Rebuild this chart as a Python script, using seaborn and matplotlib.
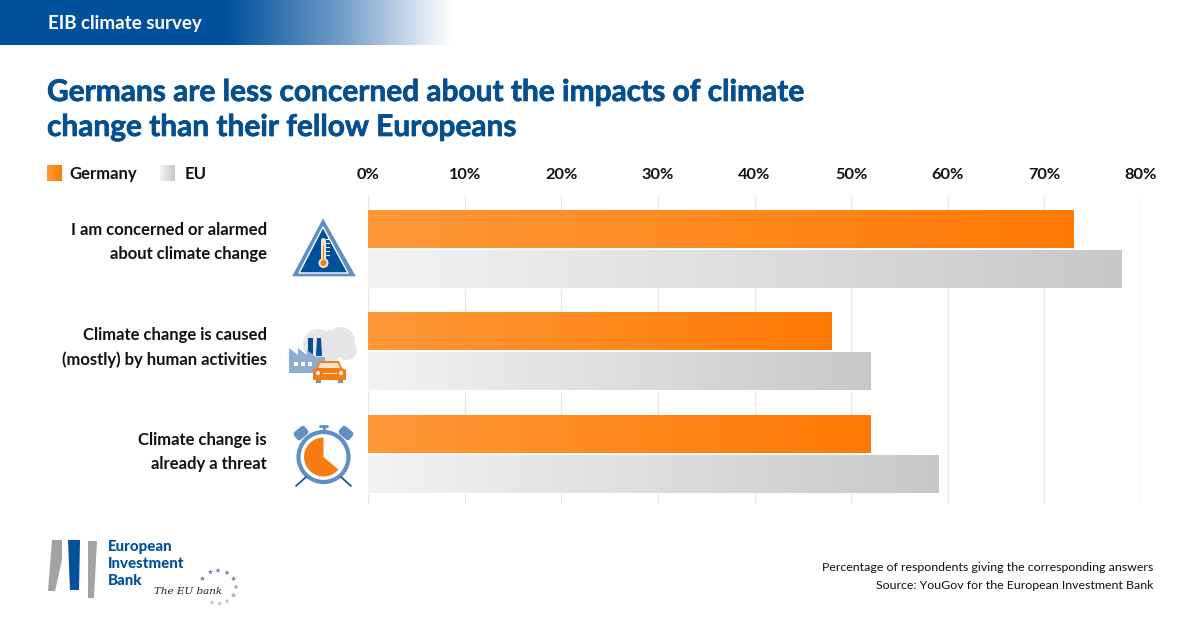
import numpy as np
import pandas as pd
import matplotlib
matplotlib.use('Agg')
import matplotlib.pyplot as plt
import matplotlib.patheffects as pe
import seaborn as sns
from matplotlib.colors import LinearSegmentedColormap
from matplotlib.patches import Circle, Polygon, Rectangle, Wedge, FancyBboxPatch

# data
statements = ['I am concerned or alarmed\nabout climate change',
              'Climate change is caused\n(mostly) by human activities',
              'Climate change is\nalready a threat']
germany = [73, 48, 52]
eu = [78, 52, 59]
ticks = [0, 10, 20, 30, 40, 50, 60, 70, 80]
label_shift_px = [7, 4, 2]

BLUE = '#00509b'
TITLE_BLUE = '#034f90'
MID_BLUE = '#5f8fc4'
ORANGE = '#f57c14'
FONT = 'Lato'

df = pd.DataFrame({'statement': statements * 2,
                   'value': germany + eu,
                   'group': ['Germany'] * 3 + ['EU'] * 3})

sns.set_theme(style='white')
plt.rcParams['font.family'] = [FONT, 'DejaVu Sans']

W, H = 1200, 629
fig = plt.figure(figsize=(W / 100, H / 100), dpi=100, facecolor='white')

# main chart, axes placed in pixels
ax = fig.add_axes([368 / W, 1 - 503.5 / H, (1141 - 368) / W, (503.5 - 195.5) / H])
sns.barplot(data=df, x='value', y='statement', hue='group', orient='h',
            hue_order=['Germany', 'EU'], width=0.78, gap=0.07, legend=False,
            palette=['#ff8a2a', '#dddddd'], ax=ax, zorder=3)

orange_grad = LinearSegmentedColormap.from_list('o', ['#ff9839', '#ff7a05'])
grey_grad = LinearSegmentedColormap.from_list('g', ['#f3f3f3', '#c8c8c8'])
ramp = np.linspace(0, 1, 256).reshape(1, -1)

# gradient fill on the bars seaborn drew
for container, cmap in zip(ax.containers, [orange_grad, grey_grad]):
    for bar in container:
        x0, y0 = bar.get_x(), bar.get_y()
        w, h = bar.get_width(), bar.get_height()
        ax.imshow(ramp, cmap=cmap, aspect='auto', zorder=4,
                  extent=[x0, x0 + w, y0 + h, y0])

ax.set_xlim(0, 80)
ax.set_ylim(2.483, -0.522)
ax.set_xticks(ticks)
ax.set_xticklabels([f'{t}%' for t in ticks])
ax.xaxis.tick_top()
ax.grid(axis='x', color='#e8e8e8', lw=1)
ax.set_axisbelow(True)
ax.set_xlabel('')
ax.set_ylabel('')
ax.tick_params(axis='x', length=0, pad=10, labelsize=11.8, labelcolor='#111111')
for t in ax.get_xticklabels():
    t.set_fontweight('bold')

# statements next to the icons, a little above each group's centre
ax.set_yticks(range(len(statements)))
ax.set_yticklabels([])
ax.tick_params(axis='y', length=0)
for i, (text, shift) in enumerate(zip(statements, label_shift_px)):
    ax.annotate(text, xy=(0, i), xytext=(-101 * 0.72, shift * 0.72), textcoords='offset points',
                ha='right', va='center', ma='right', fontsize=12, fontweight='bold',
                color='#111111', linespacing=1.55, annotation_clip=False)
sns.despine(ax=ax, left=True, bottom=True, top=True, right=True)

# overlay in pixel coordinates for header, icons, logo
ov = fig.add_axes([0, 0, 1, 1], zorder=5)
ov.patch.set_alpha(0)
ov.axis('off')


def swatch(x0, x1, y0, y1, cmap):
    ov.imshow(ramp, cmap=cmap, aspect='auto', extent=[x0, x1, y1, y0], zorder=1)


header = LinearSegmentedColormap.from_list(
    'h', [(0, BLUE), (0.5, BLUE), (0.75, '#6f9ac8'), (1, '#ffffff')])
swatch(0, 452, 0, 45, header)
swatch(47, 62, 165, 181, orange_grad)
swatch(160, 175, 165, 181, grey_grad)

# thin stroke to get closer to the heavier title face
heavier = [pe.withStroke(linewidth=0.5, foreground=TITLE_BLUE)]

ov.text(48, 24, 'EIB climate survey', color='white', fontsize=13.5, fontweight='bold',
        va='center')
ov.text(47, 92, 'Germans are less concerned about the impacts of climate',
        color=TITLE_BLUE, fontsize=21.5, fontweight='bold', va='center', path_effects=heavier)
ov.text(47, 127, 'change than their fellow Europeans',
        color=TITLE_BLUE, fontsize=21.5, fontweight='bold', va='center', path_effects=heavier)
ov.text(69, 174, 'Germany', color='#111111', fontsize=12, fontweight='bold', va='center')
ov.text(185, 174, 'EU', color='#111111', fontsize=12, fontweight='bold', va='center')
ov.text(1153, 567.5, 'Percentage of respondents giving the corresponding answers',
        color='#111111', fontsize=8.9, ha='right', va='center')
ov.text(1153, 585.5, 'Source: YouGov for the European Investment Bank',
        color='#111111', fontsize=8.9, ha='right', va='center')

# thermometer icon
ov.add_patch(Polygon([(323, 217), (357, 277), (291, 277)], fc=MID_BLUE, joinstyle='round'))
ov.add_patch(Polygon([(323, 227), (348, 273), (299, 273)], fc=BLUE))
ov.add_patch(FancyBboxPatch((321, 238), 5, 24, boxstyle='round,pad=0,rounding_size=2.5',
                            fc='#f4e3d4', ec='none'))
ov.add_patch(Circle((323.5, 263), 5, fc='#f4e3d4', ec='none'))
ov.add_patch(Circle((323.5, 263), 3, fc=ORANGE, ec='none'))
ov.add_patch(Rectangle((322.8, 246), 1.5, 15, fc=ORANGE, ec='none'))
for ty in [239, 243, 247, 251, 255]:
    ov.plot([326, 329], [ty, ty], color='white', lw=0.8)

# factory and car icon
for c, r in [((318, 344), 15), ((330, 340), 10), ((341, 341), 14), ((347, 350), 10), ((330, 353), 10)]:
    ov.add_patch(Circle(c, r, fc='#e6e6e6', ec='none'))
ov.add_patch(Rectangle((308, 338), 5, 16, fc=BLUE, ec='none'))
ov.add_patch(Polygon([(317, 338), (321, 338), (322, 356), (316, 356)], fc=BLUE, ec='none'))
ov.add_patch(Polygon([(289, 348), (298, 355), (298, 348), (307, 355), (307, 350), (316, 357),
                      (325, 357), (325, 373), (289, 373)], fc='#8eadd3', ec='none'))
for wx in [294, 301, 308]:
    ov.add_patch(Rectangle((wx, 362), 4, 4, fc='white', ec='none'))
ov.add_patch(Rectangle((316, 377), 5, 6, fc='#8b8b8b', ec='none'))
ov.add_patch(Rectangle((338, 377), 5, 6, fc='#8b8b8b', ec='none'))
ov.add_patch(Polygon([(319, 361), (339, 361), (342, 368), (346, 370), (346, 380), (313, 380),
                      (313, 370), (316, 368)], fc=ORANGE, ec='none'))
ov.add_patch(Polygon([(320, 363), (338, 363), (340, 368), (318, 368)], fc='#fbe3c8', ec='none'))
ov.add_patch(Circle((318, 373), 2, fc='white', ec='none'))
ov.add_patch(Circle((341, 373), 2, fc='white', ec='none'))
ov.plot([323, 336], [373, 373], color='#fbe3c8', lw=0.8)

# clock icon
ov.add_patch(Circle((323.5, 457), 25, fc='none', ec=MID_BLUE, lw=3))
ov.add_patch(Wedge((323.5, 457), 19.5, 40, 270, fc=ORANGE, ec='none'))
ov.plot([323.5, 323.5], [427, 432], color=MID_BLUE, lw=2)
ov.plot([320, 327], [426, 426], color=MID_BLUE, lw=2)
for sx, sy, ang in [(301, 433, -40), (346, 433, 40)]:
    ov.add_patch(FancyBboxPatch((sx - 7, sy - 5), 14, 10, boxstyle='round,pad=0,rounding_size=3',
                                fc=MID_BLUE, ec='none',
                                transform=matplotlib.transforms.Affine2D().rotate_deg_around(sx, sy, ang) + ov.transData))
ov.plot([306, 296], [477, 486], color=BLUE, lw=1.2)
ov.plot([341, 351], [477, 486], color=BLUE, lw=1.2)

# logo
ov.add_patch(Polygon([(52, 540), (62, 540), (62, 560), (55, 591), (48, 591)],
                     fc='#a3a3a3', ec='none'))
ov.add_patch(Polygon([(68, 540), (80, 540), (79, 590), (70, 590)], fc=BLUE, ec='none'))
ov.add_patch(Polygon([(88, 541), (97, 541), (94, 598), (88, 598)], fc='#a3a3a3', ec='none'))
for y, word in zip([547, 564, 581], ['European', 'Investment', 'Bank']):
    ov.text(108, y, word, color=BLUE, fontsize=10.8, fontweight='black', va='center')
ov.text(154, 592, 'The EU bank', color='#222222', fontsize=7.5, style='italic', va='center',
        family='DejaVu Serif')
star_a = np.deg2rad([-150, -115, -90, -60, -30, 0, 30, 60, 85, 110])
star_c = ['#5f7fa8'] * 5 + ['#8fa5c2'] * 2 + ['#b5c4d8'] * 3
ov.scatter(218 + 18 * np.cos(star_a), 587 + 16.5 * np.sin(star_a), marker='*', s=16,
           color=star_c, lw=0)

ov.set_xlim(0, W)
ov.set_ylim(H, 0)
ov.set_aspect('auto')

fig.savefig('out.png', dpi=100)
